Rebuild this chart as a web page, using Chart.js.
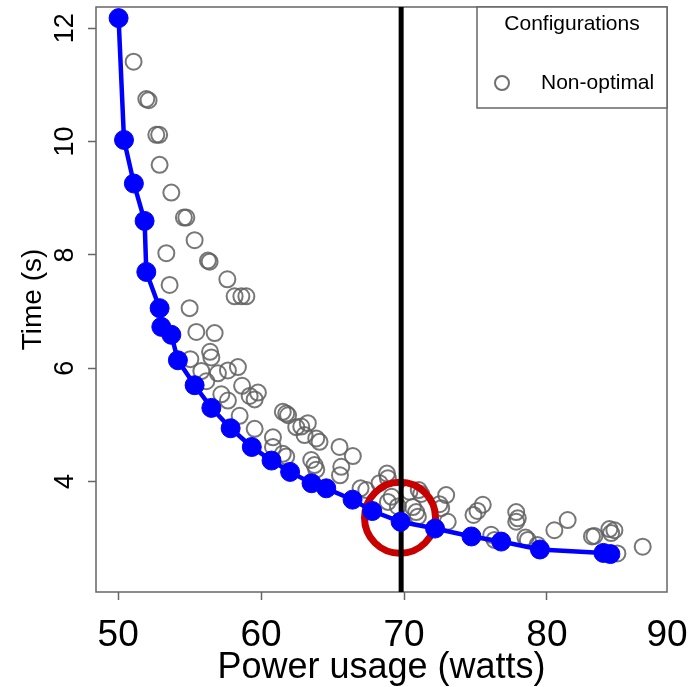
<!DOCTYPE html>
<html><head><meta charset="utf-8">
<script src="https://cdn.jsdelivr.net/npm/chart.js@4/dist/chart.umd.min.js"></script>
<style>html,body{margin:0;padding:0;background:#fff;}canvas{display:block;}</style>
</head><body>
<canvas id="c" width="695" height="687"></canvas>
<script>
// ---- data ----
const frontPower = [50.03,50.41,51.10,51.85,51.97,52.90,53.02,53.72,54.18,55.35,56.52,57.87,59.35,60.73,62.03,63.53,64.56,66.40,67.78,69.76,72.17,74.72,76.80,79.51,83.95,84.44];
const frontTime  = [12.18,10.03,9.26,8.60,7.70,7.06,6.73,6.59,6.14,5.70,5.30,4.94,4.61,4.37,4.17,3.97,3.88,3.68,3.48,3.29,3.17,3.03,2.94,2.80,2.74,2.72];
const otherPower = [51.08,51.97,52.13,52.67,52.87,52.90,53.72,54.60,54.77,55.35,56.28,56.40,53.37,53.60,57.64,58.15,58.62,58.97,55.00,
  55.47,56.75,56.43,56.52,55.05,55.82,56.98,57.68,58.38,56.17,57.22,57.68,58.67,59.20,59.78,59.55,58.50,59.55,60.83,61.52,61.76,61.89,62.46,60.83,61.52,62.81,63.27,63.04,63.86,64.09,61.76,65.49,66.42,63.51,63.74,63.86,65.61,65.52,66.96,67.36,68.81,68.87,68.29,69.13,68.87,70.38,71.03,71.20,69.57,70.62,70.85,70.97,72.48,72.95,72.60,73.06,75.51,75.14,74.86,76.10,76.33,77.85,77.96,77.85,78.50,78.66,79.34,79.48,80.52,81.45,83.15,83.32,84.37,84.72,84.49,84.93,86.70];
const otherTime  = [11.41,10.75,10.73,10.12,10.12,9.59,9.10,8.66,8.66,8.26,7.90,7.88,8.03,7.47,7.57,7.27,7.27,7.27,7.06,
  6.64,6.62,6.29,6.19,6.16,5.95,5.91,5.96,6.02,5.77,5.54,5.43,5.69,5.51,5.57,5.45,5.16,4.93,4.78,5.23,5.20,5.17,4.96,4.61,4.49,4.97,5.03,4.82,4.76,4.70,4.44,4.61,4.45,4.38,4.29,4.21,4.26,4.11,3.88,3.85,4.14,4.06,3.97,3.73,3.64,3.82,3.85,3.78,3.56,3.55,3.46,3.38,3.60,3.76,3.53,3.29,3.59,3.48,3.41,3.06,2.97,3.46,3.35,3.29,3.01,2.97,2.88,2.79,3.14,3.32,3.03,3.04,3.16,3.14,3.09,2.73,2.85];
const highlightPower = [69.72];
const highlightTime  = [3.36];
const powerCap = [69.8];
const xAxisMin = 48.45, xAxisMax = 88.4;
const yAxisMin = 2.05, yAxisMax = 12.376;
const xTickValues = [50,60,70,80,xAxisMax];
const xTickLabels = ['50','60','70','80','90'];
const yTickValues = [4,6,8,10,12];
const yTickLabels = ['4','6','8','10','12'];
const xTitle = 'Power usage (watts)';
const yTitle = 'Time (s)';
const legendTitle = 'Configurations';
const legendLabel = 'Non-optimal';

// ---- chart ----
const FAMILY = '"Liberation Sans", Arial, Helvetica, sans-serif';
const zip = (xs, ys) => xs.map((x, i) => ({x, y: ys[i]}));

const boxPlugin = {
  id: 'plotBox',
  beforeDatasetsDraw(chart) {
    const {ctx, chartArea: a} = chart;
    ctx.save();
    ctx.strokeStyle = '#666';
    ctx.lineWidth = 1.5;
    ctx.strokeRect(a.left, a.top, a.right - a.left, a.bottom - a.top);
    ctx.restore();
  }
};
const legendPlugin = {
  id: 'cfgLegend',
  afterDraw(chart) {
    const {ctx, chartArea: a} = chart;
    const w = 190, h = 101;
    const x0 = a.right - w, y0 = a.top;
    ctx.save();
    ctx.fillStyle = '#fff';
    ctx.fillRect(x0, y0, w, h);
    ctx.strokeStyle = '#666';
    ctx.lineWidth = 1.5;
    ctx.strokeRect(x0, y0, w, h);
    ctx.fillStyle = '#000';
    ctx.font = '21px ' + FAMILY;
    ctx.textBaseline = 'middle';
    ctx.textAlign = 'center';
    ctx.fillText(legendTitle, x0 + w / 2, y0 + 17);
    ctx.textAlign = 'left';
    ctx.fillText(legendLabel, x0 + 64, y0 + 76);
    ctx.beginPath();
    ctx.arc(x0 + 25, y0 + 76, 7, 0, Math.PI * 2);
    ctx.strokeStyle = 'rgba(95,95,95,0.9)';
    ctx.lineWidth = 2;
    ctx.stroke();
    ctx.restore();
  }
};

new Chart(document.getElementById('c'), {
  type: 'scatter',
  data: {
    datasets: [
      {
        label: 'Optimal',
        data: zip(frontPower, frontTime),
        showLine: true,
        borderColor: '#0000ff',
        borderWidth: 4.5,
        tension: 0,
        pointRadius: 9.5,
        pointBackgroundColor: '#0000ff',
        pointBorderColor: '#0000ff',
        pointBorderWidth: 1,
        order: 0
      },
      {
        label: 'Power cap',
        data: [{x: powerCap[0], y: yAxisMin}, {x: powerCap[0], y: yAxisMax}],
        showLine: true,
        borderColor: '#000',
        borderWidth: 5,
        pointRadius: 0,
        order: 1
      },
      {
        label: 'Selected',
        data: zip(highlightPower, highlightTime),
        pointRadius: 35.5,
        pointBorderWidth: 7,
        pointBorderColor: '#c80000',
        pointBackgroundColor: 'rgba(0,0,0,0)',
        order: 2
      },
      {
        label: legendLabel,
        data: zip(otherPower, otherTime),
        pointRadius: 8,
        pointBorderWidth: 2,
        pointBorderColor: 'rgba(95,95,95,0.85)',
        pointBackgroundColor: 'rgba(0,0,0,0)',
        order: 3
      }
    ]
  },
  options: {
    responsive: false,
    animation: false,
    events: [],
    devicePixelRatio: 1,
    layout: {autoPadding: false, padding: {left: 0, top: 7, right: 28, bottom: 0}},
    plugins: {legend: {display: false}, tooltip: {enabled: false}},
    scales: {
      x: {
        type: 'linear',
        min: xAxisMin, max: xAxisMax,
        afterBuildTicks: s => { s.ticks = xTickValues.map(v => ({value: v})); },
        afterFit: s => { s.height = 95; s.paddingLeft = 0; s.paddingRight = 0; },
        border: {display: false},
        grid: {
          drawOnChartArea: false, drawTicks: true, tickLength: 8, tickWidth: 1.5,
          tickColor: c => (c.tick && c.tick.value === xAxisMax) ? 'rgba(0,0,0,0)' : '#666'
        },
        ticks: {
          color: '#000', padding: 17, maxRotation: 0, minRotation: 0, autoSkip: false,
          font: {family: FAMILY, size: 37, lineHeight: 1},
          callback: (v, i) => xTickLabels[i]
        },
        title: {display: true, text: xTitle, color: '#000',
          font: {family: FAMILY, size: 36, lineHeight: 1}, padding: {top: 0, bottom: 1}}
      },
      y: {
        type: 'linear',
        min: yAxisMin, max: yAxisMax,
        afterBuildTicks: s => { s.ticks = yTickValues.map(v => ({value: v})); },
        afterFit: s => { s.width = 96; s.paddingTop = 0; s.paddingBottom = 0; },
        border: {display: false},
        grid: {drawOnChartArea: false, drawTicks: true, tickLength: 8, tickWidth: 1.5, tickColor: '#666'},
        ticks: {
          color: '#000', padding: 7, minRotation: 90, maxRotation: 90, crossAlign: 'center',
          font: {family: FAMILY, size: 27, lineHeight: 1},
          callback: (v, i) => yTickLabels[i]
        },
        title: {display: true, text: yTitle, color: '#000',
          font: {family: FAMILY, size: 28, lineHeight: 1}, padding: {top: 19, bottom: 0}}
      }
    }
  },
  plugins: [boxPlugin, legendPlugin]
});
</script>
</body></html>
